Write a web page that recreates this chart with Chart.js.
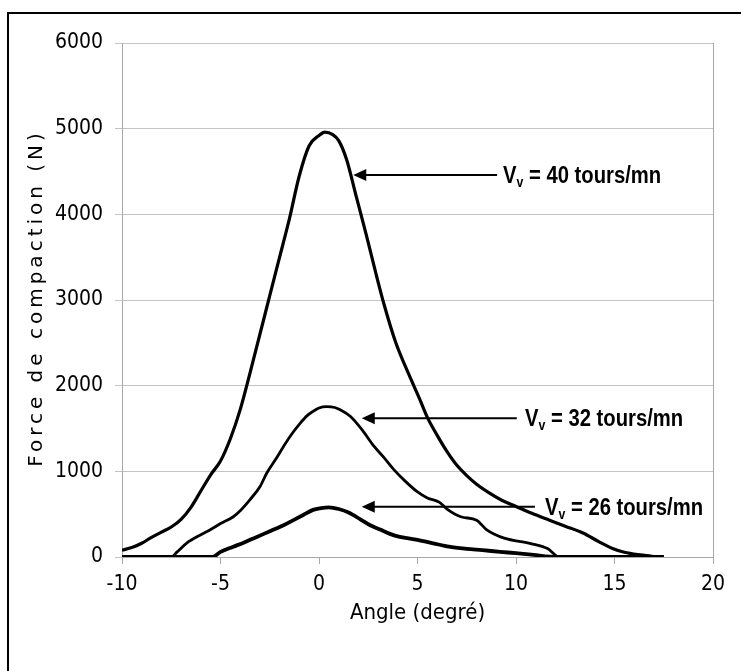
<!DOCTYPE html>
<html><head><meta charset="utf-8">
<script src="https://cdn.jsdelivr.net/npm/chart.js@4.4.1/dist/chart.umd.min.js"></script>
<style>html,body{margin:0;padding:0;background:#fff;overflow:hidden}</style>
</head><body>
<canvas id="c" width="741" height="671"></canvas>
<script>
// ---- data ----
const xTicks = [-10, -5, 0, 5, 10, 15, 20];
const yTicks = [0, 1000, 2000, 3000, 4000, 5000, 6000];
const xTitle = 'Angle (degré)';
const yTitle = 'Force de compaction (N)';
const speeds = ['40', '32', '26'];

const angle40 = [-10,-9.5,-9,-8.5,-8,-7.5,-7,-6.5,-6,-5.5,-5,-4.5,-4,-3.5,-3,-2.5,-2,-1.5,-1,-0.5,0,0.3,0.7,1,1.4,1.9,2.4,2.9,3.3,3.9,4.6,5.1,5.5,6,6.5,7,7.5,8,8.7,9.3,10,10.8,11.7,12.5,13.4,14.2,14.9,15.5,16.4,17,17.5];
const force40 = [80,110,160,230,290,350,440,580,770,960,1120,1380,1720,2150,2600,3050,3500,3950,4450,4800,4920,4960,4930,4860,4640,4200,3760,3300,2950,2500,2110,1850,1630,1420,1230,1070,950,850,740,660,590,510,430,360,280,180,100,55,22,5,0];

const angle32 = [-10,-7.5,-7.2,-6.7,-6,-5.5,-5,-4.35,-4,-3.5,-3,-2.65,-2.2,-1.8,-1.4,-0.96,-0.6,-0.3,0,0.4,0.8,1.1,1.6,2.2,2.8,3.3,3.8,4.4,5,5.5,6.1,6.5,7.2,8,8.5,9.4,10.7,11.6,12.2,17.5];
const force32 = [0,0,60,165,260,320,390,470,540,670,820,980,1140,1290,1430,1560,1650,1700,1740,1755,1745,1715,1640,1480,1290,1160,1020,880,760,690,640,560,470,430,320,220,160,100,0,0];

const angle26 = [-10,-5.4,-5,-4.35,-3.8,-3.3,-2.8,-2.3,-1.8,-1.3,-0.8,-0.3,0.1,0.5,1,1.5,2.1,2.6,3.1,3.6,4.1,5,5.8,6.6,7.5,8.3,9.2,10,10.9,11.7,12.5,17.5];
const force26 = [0,0,60,120,170,220,270,320,370,430,490,550,570,580,560,520,440,370,320,270,235,200,160,120,95,80,60,45,25,5,0,0];

// arrow annotations: tip (angle, force), tail angle, text angle
const arrowTipAngle = [1.74, 2.17, 2.17];
const arrowForce = [4459, 1619, 587];
const arrowTailAngle = [9.04, 10.04, 10.96];
const labelAngle = [9.34, 10.46, 11.47];

// ---- build ----
function pts(a, f) { return a.map((x, i) => ({x: x, y: f[i]})); }
const seriesData = [pts(angle40, force40), pts(angle32, force32), pts(angle26, force26)];
const widths = [3.2, 2.8, 3.8];

const TICK_FONT = '"DejaVu Sans Condensed", "DejaVu Sans", sans-serif';
const LABEL_FONT = '"Liberation Sans Narrow", "Arial Narrow", "Liberation Sans", sans-serif';

const framePlugin = {
  id: 'frame',
  beforeDraw(chart) {
    const ctx = chart.ctx;
    ctx.save();
    ctx.fillStyle = '#fff';
    ctx.fillRect(0, 0, chart.width, chart.height);
    ctx.strokeStyle = '#000';
    ctx.lineWidth = 2;
    ctx.beginPath();
    ctx.moveTo(8, chart.height);
    ctx.lineTo(8, 13);
    ctx.lineTo(chart.width, 13);
    ctx.stroke();
    ctx.restore();
  },
  afterDraw(chart) {
    const ctx = chart.ctx, a = chart.chartArea;
    ctx.save();
    ctx.strokeStyle = '#a8a8a8';
    ctx.lineWidth = 1;
    ctx.beginPath();
    ctx.moveTo(a.right + 0.5, a.top);
    ctx.lineTo(a.right + 0.5, a.bottom + 7);
    ctx.stroke();
    ctx.translate(37, (a.top + a.bottom) / 2);
    ctx.rotate(-Math.PI / 2);
    ctx.font = '20px "DejaVu Sans", sans-serif';
    ctx.letterSpacing = '4px';
    ctx.fillStyle = '#000';
    ctx.textAlign = 'center';
    ctx.textBaseline = 'middle';
    ctx.fillText(yTitle, 2, 0);
    ctx.restore();
  }
};

const arrowPlugin = {
  id: 'arrows',
  afterDatasetsDraw(chart) {
    const ctx = chart.ctx, xs = chart.scales.x, ys = chart.scales.y;
    ctx.save();
    for (let i = 0; i < speeds.length; i++) {
      const tx = xs.getPixelForValue(arrowTipAngle[i]);
      const ty = ys.getPixelForValue(arrowForce[i]);
      const ex = xs.getPixelForValue(arrowTailAngle[i]);
      const lx = xs.getPixelForValue(labelAngle[i]);
      ctx.strokeStyle = '#000';
      ctx.fillStyle = '#000';
      ctx.lineWidth = 2;
      ctx.beginPath();
      ctx.moveTo(tx + 10, ty);
      ctx.lineTo(ex, ty);
      ctx.stroke();
      ctx.beginPath();
      ctx.moveTo(tx, ty);
      ctx.lineTo(tx + 13, ty - 6);
      ctx.lineTo(tx + 13, ty + 6);
      ctx.closePath();
      ctx.fill();
      ctx.save();
      ctx.translate(lx, ty + 8);
      ctx.scale(0.88, 1);
      ctx.textBaseline = 'alphabetic';
      ctx.textAlign = 'left';
      ctx.font = 'bold 23px ' + LABEL_FONT;
      ctx.fillText('V', 0, 0);
      const w = ctx.measureText('V').width;
      ctx.font = 'bold 14px ' + LABEL_FONT;
      ctx.fillText('v', w, 4);
      const w2 = ctx.measureText('v').width;
      ctx.font = 'bold 23px ' + LABEL_FONT;
      ctx.fillText(' = ' + speeds[i] + ' tours/mn', w + w2, 0);
      ctx.restore();
    }
    ctx.restore();
  }
};

new Chart(document.getElementById('c'), {
  type: 'scatter',
  data: {
    datasets: seriesData.map((d, i) => ({
      label: 'Vv = ' + speeds[i] + ' tours/mn',
      data: d,
      showLine: true,
      borderColor: '#000',
      backgroundColor: '#000',
      borderWidth: widths[i],
      pointRadius: 0,
      cubicInterpolationMode: 'monotone'
    }))
  },
  options: {
    responsive: false,
    animation: false,
    devicePixelRatio: 1,
    layout: { padding: { top: 43, right: 28, left: 0, bottom: 0 } },
    plugins: { legend: { display: false }, tooltip: { enabled: false } },
    scales: {
      x: {
        type: 'linear', min: -10, max: 20,
        afterBuildTicks: s => { s.ticks = xTicks.map(v => ({value: v})); },
        afterFit: s => { s.height = 114; },
        ticks: { color: '#000', font: { family: TICK_FONT, size: 21 }, padding: 8, maxRotation: 0, callback: v => String(v) },
        grid: { drawOnChartArea: false, drawTicks: true, tickLength: 7, color: '#a8a8a8' },
        border: { color: '#a8a8a8', width: 1 },
        title: { display: true, text: xTitle, color: '#000', font: { family: TICK_FONT, size: 22 }, padding: { top: 0, bottom: 45 } }
      },
      y: {
        type: 'linear', min: 0, max: 6000,
        afterBuildTicks: s => { s.ticks = yTicks.map(v => ({value: v})); },
        afterFit: s => { s.width = 122; },
        ticks: { color: '#000', font: { family: TICK_FONT, size: 21 }, padding: 12, callback: v => String(v) },
        grid: { color: '#c4c4c4', tickLength: 7, drawTicks: true },
        border: { color: '#a8a8a8', width: 1 }
      }
    }
  },
  plugins: [framePlugin, arrowPlugin]
});
</script>
</body></html>
